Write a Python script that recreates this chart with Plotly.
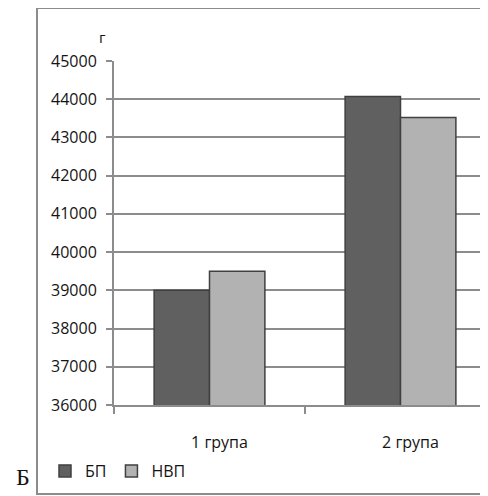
import plotly.graph_objects as go

categories = ["1 група", "2 група"]
series_names = ["БП", "НВП"]
bp_values = [39000, 44070]
nvp_values = [39500, 43520]
y_ticks = [36000, 37000, 38000, 39000, 40000, 41000, 42000, 43000, 44000, 45000]

GRID = "#8c8c8c"
FONT = "Open Sans"

# page body has an 8px margin; work in reference-page pixels and convert
OFF = 8
W, H = 480, 488
ml, mr, mt, mb = 114 - OFF, 0, 61 - OFF, 488 - (405 - OFF)
pw, ph = W - ml - mr, H - mt - mb

def px_x(x):
    return (x - OFF - ml) / pw

def px_y(y):
    return (H - mb - (y - OFF)) / ph

fig = go.Figure()
fig.add_trace(go.Bar(x=categories, y=bp_values, name=series_names[0],
                     marker=dict(color="#606060", line=dict(color="#404040", width=1.5))))
fig.add_trace(go.Bar(x=categories, y=nvp_values, name=series_names[1],
                     marker=dict(color="#b2b2b2", line=dict(color="#404040", width=1.5))))

cat_px = 191.0
fig.update_layout(
    width=W, height=H,
    margin=dict(l=ml, r=mr, t=mt, b=mb, pad=0),
    paper_bgcolor="white", plot_bgcolor="white",
    barmode="group", bargap=0.42, bargroupgap=0,
    font=dict(family=FONT, size=16, color="#141414"),
    showlegend=True,
    legend=dict(orientation="h", x=px_x(45), y=px_y(471), xanchor="left", yanchor="middle",
                font=dict(family=FONT, size=16, color="#141414"),
                bgcolor="rgba(0,0,0,0)", itemwidth=30, traceorder="normal"),
    xaxis=dict(type="category", range=[-0.5, -0.5 + pw / cat_px],
               showgrid=False, showline=True, linecolor=GRID, linewidth=2,
               ticks="outside", tickson="boundaries", ticklen=7, tickwidth=2, tickcolor=GRID,
               ticklabelstandoff=22, ticklabelshift=10, zeroline=False, fixedrange=True),
    yaxis=dict(range=[36000, 45000], tickvals=y_ticks, ticktext=[str(v) for v in y_ticks],
               showgrid=True, gridcolor=GRID, gridwidth=2,
               showline=True, linecolor=GRID, linewidth=2,
               ticks="outside", ticklen=6, tickwidth=2, tickcolor=GRID,
               ticklabelstandoff=6, zeroline=False, fixedrange=True),
)

fig.add_shape(type="rect", xref="paper", yref="paper",
              x0=px_x(37), x1=px_x(W + OFF + 10), y0=px_y(494), y1=px_y(8),
              line=dict(color=GRID, width=2), fillcolor="rgba(0,0,0,0)", layer="below")

fig.add_annotation(text="г", xref="paper", yref="paper", x=px_x(102), y=px_y(37),
                   showarrow=False, xanchor="center", yanchor="middle",
                   font=dict(family=FONT, size=15, color="#141414"))
fig.add_annotation(text="Б", xref="paper", yref="paper", x=px_x(23), y=px_y(477),
                   showarrow=False, xanchor="center", yanchor="middle",
                   font=dict(family="Liberation Serif", size=24, color="#141414"))

fig.write_html("out.html")
